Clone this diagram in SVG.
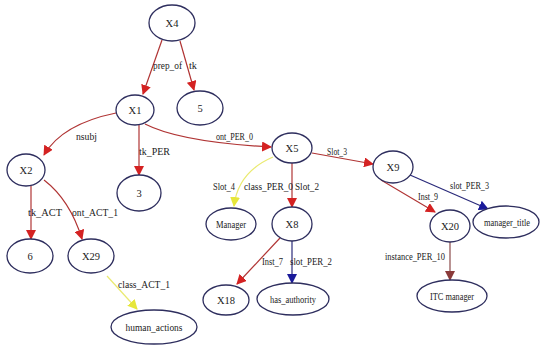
<svg xmlns="http://www.w3.org/2000/svg" width="543" height="345" viewBox="0 0 543 345">
<defs>
<marker id="ar" viewBox="0 0 10 10" refX="9" refY="5" markerWidth="10" markerHeight="10" markerUnits="userSpaceOnUse" orient="auto"><path d="M0,0 L10,5 L0,10 z" fill="#d42222"/></marker>
<marker id="ay" viewBox="0 0 10 10" refX="9" refY="5" markerWidth="10" markerHeight="10" markerUnits="userSpaceOnUse" orient="auto"><path d="M0,0 L10,5 L0,10 z" fill="#e6e63a"/></marker>
<marker id="ab" viewBox="0 0 10 10" refX="9" refY="5" markerWidth="10" markerHeight="10" markerUnits="userSpaceOnUse" orient="auto"><path d="M0,0 L10,5 L0,10 z" fill="#1a1a9a"/></marker>
<marker id="an" viewBox="0 0 10 10" refX="9" refY="5" markerWidth="10" markerHeight="10" markerUnits="userSpaceOnUse" orient="auto"><path d="M0,0 L10,5 L0,10 z" fill="#8a3a3a"/></marker>
</defs>
<style>
.n ellipse{fill:#fff;stroke:#2e2e5e;stroke-width:1.3}
.n text{font-family:'Liberation Serif','Times New Roman',serif;font-size:10.5px;fill:#222;text-anchor:middle}
.e path{fill:none;stroke-width:1.2}
.r{stroke:#b03434;marker-end:url(#ar)}
.y{stroke:#eaea70;marker-end:url(#ay)}
.b{stroke:#2a2a7a;marker-end:url(#ab)}
.w{stroke:#8a4a4a;marker-end:url(#an)}
.l text{font-family:'Liberation Serif','Times New Roman',serif;font-size:10px;fill:#222}
</style>
<rect width="543" height="345" fill="#fff"/>
<g id="edges" class="e">
<path class="r" d="M162,40 L143,94"/>
<path class="r" d="M180,41 L194,90"/>
<path class="r" d="M116,113 Q62,124 44,155"/>
<path class="r" d="M139,125 L139,175"/>
<path class="r" d="M145,124 Q180,142 271,147"/>
<path class="r" d="M312,153 L373,164"/>
<path class="y" d="M273,157 Q238,172 234,206"/>
<path class="r" d="M292,163 L292,207"/>
<path class="r" d="M381,180 L435,212"/>
<path class="b" d="M410,175 L488,209"/>
<path class="w" d="M450,242 L450,280"/>
<path class="r" d="M31,186 L31,239"/>
<path class="r" d="M44,180 Q70,200 82,239"/>
<path class="y" d="M107,276 L137,309"/>
<path class="r" d="M280,238 L237,284"/>
<path class="b" d="M292,241 L292,283"/>
</g>
<g class="l" id="labels">
<text x="153" y="69" textLength="29" lengthAdjust="spacingAndGlyphs">prep_of</text>
<text x="189" y="69" textLength="8" lengthAdjust="spacingAndGlyphs">tk</text>
<text x="76" y="140" textLength="21" lengthAdjust="spacingAndGlyphs">nsubj</text>
<text x="139" y="155" textLength="31" lengthAdjust="spacingAndGlyphs">tk_PER</text>
<text x="216" y="140" textLength="37" lengthAdjust="spacingAndGlyphs">ont_PER_0</text>
<text x="327" y="155" textLength="20" lengthAdjust="spacingAndGlyphs">Slot_3</text>
<text x="213" y="190" textLength="22" lengthAdjust="spacingAndGlyphs">Slot_4</text>
<text x="244" y="190" textLength="49" lengthAdjust="spacingAndGlyphs">class_PER_0</text>
<text x="295" y="190" textLength="24" lengthAdjust="spacingAndGlyphs">Slot_2</text>
<text x="418" y="200" textLength="20" lengthAdjust="spacingAndGlyphs">Inst_9</text>
<text x="450" y="189" textLength="39" lengthAdjust="spacingAndGlyphs">slot_PER_3</text>
<text x="385" y="260" textLength="60" lengthAdjust="spacingAndGlyphs">instance_PER_10</text>
<text x="28" y="216" textLength="34" lengthAdjust="spacingAndGlyphs">tk_ACT</text>
<text x="72" y="216" textLength="46" lengthAdjust="spacingAndGlyphs">ont_ACT_1</text>
<text x="118" y="288" textLength="52" lengthAdjust="spacingAndGlyphs">class_ACT_1</text>
<text x="262" y="265" textLength="21" lengthAdjust="spacingAndGlyphs">Inst_7</text>
<text x="290" y="265" textLength="42" lengthAdjust="spacingAndGlyphs">slot_PER_2</text>
</g>
<g id="X4" class="n"><ellipse cx="172" cy="23" rx="23" ry="18"/><text x="172" y="27">X4</text></g>
<g id="X1" class="n"><ellipse cx="135" cy="110" rx="19" ry="15"/><text x="135" y="114">X1</text></g>
<g id="n5" class="n"><ellipse cx="200" cy="108" rx="23" ry="17"/><text x="200" y="112">5</text></g>
<g id="X2" class="n"><ellipse cx="26" cy="170" rx="19" ry="16"/><text x="26" y="174">X2</text></g>
<g id="n3" class="n"><ellipse cx="139" cy="193" rx="22" ry="18"/><text x="139" y="197">3</text></g>
<g id="X5" class="n"><ellipse cx="292" cy="148" rx="20" ry="15"/><text x="292" y="152">X5</text></g>
<g id="X9" class="n"><ellipse cx="393" cy="167" rx="20" ry="16"/><text x="393" y="171">X9</text></g>
<g id="n6" class="n"><ellipse cx="30" cy="256" rx="23" ry="17"/><text x="30" y="260">6</text></g>
<g id="X29" class="n"><ellipse cx="91" cy="256" rx="23" ry="17"/><text x="91" y="260">X29</text></g>
<g id="human_actions" class="n"><ellipse cx="154" cy="327" rx="43" ry="17"/><text x="154" y="331" textLength="57" lengthAdjust="spacingAndGlyphs">human_actions</text></g>
<g id="Manager" class="n"><ellipse cx="231" cy="224" rx="25" ry="16"/><text x="231" y="228" textLength="30" lengthAdjust="spacingAndGlyphs">Manager</text></g>
<g id="X8" class="n"><ellipse cx="292" cy="224" rx="20" ry="17"/><text x="292" y="228">X8</text></g>
<g id="X18" class="n"><ellipse cx="226" cy="300" rx="23" ry="15"/><text x="226" y="304">X18</text></g>
<g id="has_authority" class="n"><ellipse cx="293" cy="299" rx="36" ry="16"/><text x="293" y="303" textLength="46" lengthAdjust="spacingAndGlyphs">has_authority</text></g>
<g id="X20" class="n"><ellipse cx="450" cy="226" rx="20" ry="16"/><text x="450" y="230">X20</text></g>
<g id="manager_title" class="n"><ellipse cx="506" cy="222" rx="33" ry="16"/><text x="507" y="226" textLength="46" lengthAdjust="spacingAndGlyphs">manager_title</text></g>
<g id="ITC_manager" class="n"><ellipse cx="452" cy="296" rx="35" ry="16"/><text x="452" y="300" textLength="44" lengthAdjust="spacingAndGlyphs">ITC manager</text></g>
</svg>
